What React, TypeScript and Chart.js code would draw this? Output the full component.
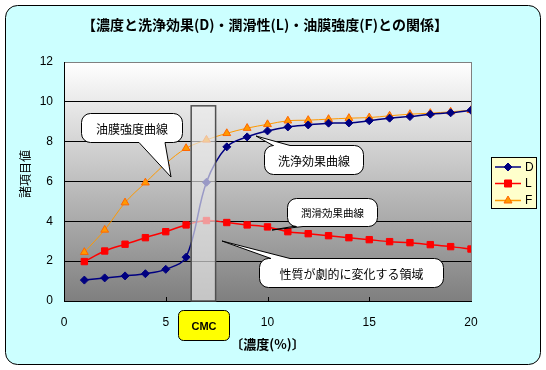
import { useEffect, useRef } from 'react';
import { Chart, registerables } from 'chart.js';

Chart.register(...registerables);

// ---- data ----
const concentrations = [1, 2, 3, 4, 5, 6, 7, 8, 9, 10, 11, 12, 13, 14, 15, 16, 17, 18, 19, 20];
const dValues = [1.05, 1.16, 1.26, 1.37, 1.59, 2.2, 5.96, 7.74, 8.24, 8.54, 8.74, 8.84, 8.93, 8.94, 9.05, 9.18, 9.26, 9.38, 9.45, 9.58];
const lValues = [1.98, 2.51, 2.85, 3.18, 3.48, 3.82, 4.04, 3.94, 3.82, 3.72, 3.48, 3.38, 3.28, 3.18, 3.08, 2.98, 2.93, 2.83, 2.73, 2.61];
const fValues = [2.45, 3.57, 4.94, 5.94, 6.9, 7.67, 8.09, 8.42, 8.68, 8.87, 9.05, 9.08, 9.13, 9.18, 9.21, 9.3, 9.38, 9.43, 9.5, 9.58];
const seriesNames = ['D', 'L', 'F'];
const xTicks = [0, 5, 10, 15, 20];
const yTicks = [0, 2, 4, 6, 8, 10, 12];
const cmcRange = [6.25, 7.45];
const cmcTop = 9.8;

const titleText = '【濃度と洗浄効果(D)・潤滑性(L)・油膜強度(F)との関係】';
const xTitle = '〔濃度(%)〕';
const yTitle = '諸項目値';
const cmcLabel = 'CMC';

const JP = "'Noto Sans CJK JP', 'Noto Sans', sans-serif";
const NUM = "'Liberation Sans', Arial, sans-serif";

type Tail = { edge: 'top' | 'bottom'; a: number; b: number; tx: number; ty: number };

function calloutPath(ctx: CanvasRenderingContext2D, x: number, y: number, w: number, h: number, r: number, t: Tail) {
  ctx.beginPath();
  ctx.moveTo(x + r, y);
  if (t.edge === 'top') {
    ctx.lineTo(t.a, y);
    ctx.lineTo(t.tx, t.ty);
    ctx.lineTo(t.b, y);
  }
  ctx.lineTo(x + w - r, y);
  ctx.arcTo(x + w, y, x + w, y + r, r);
  ctx.lineTo(x + w, y + h - r);
  ctx.arcTo(x + w, y + h, x + w - r, y + h, r);
  if (t.edge === 'bottom') {
    ctx.lineTo(t.b, y + h);
    ctx.lineTo(t.tx, t.ty);
    ctx.lineTo(t.a, y + h);
  }
  ctx.lineTo(x + r, y + h);
  ctx.arcTo(x, y + h, x, y + h - r, r);
  ctx.lineTo(x, y + r);
  ctx.arcTo(x, y, x + r, y, r);
  ctx.closePath();
}

function roundRect(ctx: CanvasRenderingContext2D, x: number, y: number, w: number, h: number, r: number) {
  ctx.beginPath();
  ctx.moveTo(x + r, y);
  ctx.lineTo(x + w - r, y);
  ctx.arcTo(x + w, y, x + w, y + r, r);
  ctx.lineTo(x + w, y + h - r);
  ctx.arcTo(x + w, y + h, x + w - r, y + h, r);
  ctx.lineTo(x + r, y + h);
  ctx.arcTo(x, y + h, x, y + h - r, r);
  ctx.lineTo(x, y + r);
  ctx.arcTo(x, y, x + r, y, r);
  ctx.closePath();
}

function drawMarker(ctx: CanvasRenderingContext2D, kind: string, x: number, y: number, fill: string, stroke: string) {
  ctx.beginPath();
  if (kind === 'diamond') {
    ctx.moveTo(x, y - 4); ctx.lineTo(x + 4, y); ctx.lineTo(x, y + 4); ctx.lineTo(x - 4, y);
  } else if (kind === 'square') {
    ctx.rect(x - 3.5, y - 3.5, 7, 7);
  } else {
    ctx.moveTo(x, y - 4.5); ctx.lineTo(x + 4, y + 2.5); ctx.lineTo(x - 4, y + 2.5);
  }
  ctx.closePath();
  ctx.fillStyle = fill;
  ctx.fill();
  ctx.strokeStyle = stroke;
  ctx.lineWidth = 1;
  ctx.stroke();
}

export default function App() {
  const ref = useRef<HTMLCanvasElement>(null);

  useEffect(() => {
    document.body.style.margin = '0';
    const canvas = ref.current!;

    const overlay = {
      id: 'overlay',
      beforeDraw(chart: any) {
        const ctx: CanvasRenderingContext2D = chart.ctx;
        const { left, top, right, bottom } = chart.chartArea;
        ctx.save();
        ctx.fillStyle = '#FFFFFF';
        ctx.fillRect(0, 0, chart.width, chart.height);
        roundRect(ctx, 5.5, 5.5, 535, 359, 12);
        ctx.fillStyle = '#CCFFFF';
        ctx.fill();
        ctx.strokeStyle = '#000000';
        ctx.lineWidth = 1;
        ctx.stroke();
        const g = ctx.createLinearGradient(0, top, 0, bottom);
        g.addColorStop(0, '#FFFFFF');
        g.addColorStop(1, '#7F7F7F');
        ctx.fillStyle = g;
        ctx.fillRect(left, top, right - left, bottom - top);
        ctx.restore();
      },
      afterDatasetsDraw(chart: any) {
        const ctx: CanvasRenderingContext2D = chart.ctx;
        const xs = chart.scales.x;
        const ys = chart.scales.y;
        const { left, top, right, bottom } = chart.chartArea;
        ctx.save();

        // inner x tick marks
        ctx.strokeStyle = '#000000';
        ctx.lineWidth = 1;
        for (const v of xTicks.slice(1, -1)) {
          const px = Math.round(xs.getPixelForValue(v)) + 0.5;
          ctx.beginPath();
          ctx.moveTo(px, bottom);
          ctx.lineTo(px, bottom - 4);
          ctx.stroke();
        }
        // right border gray
        ctx.strokeStyle = '#808080';
        ctx.beginPath();
        ctx.moveTo(Math.round(right) + 0.5, top);
        ctx.lineTo(Math.round(right) + 0.5, bottom);
        ctx.stroke();

        // CMC band
        const bx1 = xs.getPixelForValue(cmcRange[0]);
        const bx2 = xs.getPixelForValue(cmcRange[1]);
        const by = ys.getPixelForValue(cmcTop);
        ctx.fillStyle = 'rgba(235,235,235,0.65)';
        ctx.fillRect(bx1, by, bx2 - bx1, bottom - by);
        ctx.strokeStyle = '#505050';
        ctx.lineWidth = 1.5;
        ctx.strokeRect(bx1, by, bx2 - bx1, bottom - by);

        // callouts
        const callouts: { text: string; x: number; y: number; w: number; h: number; size: number; tail: Tail }[] = [
          { text: '油膜強度曲線', x: 81.5, y: 113.5, w: 101, h: 29, size: 12, tail: { edge: 'bottom', a: 139, b: 165, tx: 171, ty: 177 } },
          { text: '洗浄効果曲線', x: 264.5, y: 145.5, w: 99, h: 29, size: 12, tail: { edge: 'top', a: 273, b: 290, tx: 256, ty: 136 } },
          { text: '潤滑効果曲線', x: 287.5, y: 198.5, w: 90, h: 28, size: 10.5, tail: { edge: 'bottom', a: 293, b: 303, tx: 272, ty: 230 } },
          { text: '性質が劇的に変化する領域', x: 259.5, y: 258.5, w: 184, h: 29, size: 12, tail: { edge: 'top', a: 271, b: 290, tx: 222, ty: 241 } },
        ];
        for (const c of callouts) {
          calloutPath(ctx, c.x, c.y, c.w, c.h, 9, c.tail);
          ctx.fillStyle = '#FFFFFF';
          ctx.fill();
          ctx.strokeStyle = '#000000';
          ctx.lineWidth = 1;
          ctx.stroke();
          ctx.fillStyle = '#000000';
          ctx.font = `${c.size}px ${JP}`;
          ctx.textAlign = 'center';
          ctx.textBaseline = 'middle';
          ctx.fillText(c.text, c.x + c.w / 2, c.y + c.h / 2 + 1);
        }

        // legend
        ctx.fillStyle = '#FFFFCC';
        ctx.fillRect(491.5, 157.5, 45, 51);
        ctx.strokeStyle = '#000000';
        ctx.lineWidth = 1;
        ctx.strokeRect(491.5, 157.5, 45, 51);
        const leg = [
          { name: seriesNames[0], color: '#000080', fill: '#000080', kind: 'diamond', y: 167 },
          { name: seriesNames[1], color: '#FF0000', fill: '#FF0000', kind: 'square', y: 183.5 },
          { name: seriesNames[2], color: '#FF9900', fill: '#FF9900', kind: 'triangle', y: 200.5 },
        ];
        for (const l of leg) {
          ctx.strokeStyle = l.color;
          ctx.lineWidth = 1.5;
          ctx.beginPath();
          ctx.moveTo(495, l.y);
          ctx.lineTo(521, l.y);
          ctx.stroke();
          drawMarker(ctx, l.kind, 508, l.y, l.fill, l.kind === 'triangle' ? '#FF6600' : l.color);
          ctx.fillStyle = '#000000';
          ctx.font = `12px ${NUM}`;
          ctx.textAlign = 'left';
          ctx.textBaseline = 'middle';
          ctx.fillText(l.name, 525, l.y + 0.5);
        }

        // CMC label
        roundRect(ctx, 178.5, 310.5, 51, 30, 5);
        ctx.fillStyle = '#FFFF00';
        ctx.fill();
        ctx.strokeStyle = '#000000';
        ctx.lineWidth = 1;
        ctx.stroke();
        ctx.fillStyle = '#000000';
        ctx.font = `bold 11px ${NUM}`;
        ctx.textAlign = 'center';
        ctx.textBaseline = 'middle';
        ctx.fillText(cmcLabel, 204, 326.5);

        // main title
        ctx.font = `bold 14px ${JP}`;
        ctx.fillText(titleText, 265, 25);

        // y title rotated
        ctx.save();
        ctx.translate(25.5, 174);
        ctx.rotate(-Math.PI / 2);
        ctx.font = `12px ${JP}`;
        ctx.fillText(yTitle, 0, 0);
        ctx.restore();

        ctx.restore();
      },
    };

    const mk = (vals: number[]) => concentrations.map((x, i) => ({ x, y: vals[i] }));

    const chart = new Chart(canvas, {
      type: 'line',
      data: {
        datasets: [
          {
            label: seriesNames[0],
            data: mk(dValues),
            borderColor: '#000080',
            backgroundColor: '#000080',
            borderWidth: 1.5,
            pointStyle: 'rectRot',
            pointRadius: 4,
            pointBorderWidth: 1,
            tension: 0.35,
          },
          {
            label: seriesNames[1],
            data: mk(lValues),
            borderColor: '#FF0000',
            backgroundColor: '#FF0000',
            borderWidth: 1.5,
            pointStyle: 'rect',
            pointRadius: 4.5,
            pointBorderWidth: 1,
            tension: 0.35,
          },
          {
            label: seriesNames[2],
            data: mk(fValues),
            borderColor: '#FF9900',
            backgroundColor: '#FF9900',
            pointBorderColor: '#FF6600',
            borderWidth: 1,
            pointStyle: 'triangle',
            pointRadius: 4.5,
            pointBorderWidth: 1,
            tension: 0.35,
          },
        ],
      },
      options: {
        animation: false,
        responsive: false,
        devicePixelRatio: 1,
        layout: { padding: { left: 14, top: 62, right: 75, bottom: 10 } },
        plugins: {
          legend: { display: false },
          title: { display: false },
          tooltip: { enabled: false },
        },
        scales: {
          x: {
            type: 'linear',
            min: 0,
            max: 20,
            afterFit: (s: any) => { s.height = 59; },
            afterBuildTicks: (s: any) => { s.ticks = xTicks.map((v) => ({ value: v })); },
            ticks: { color: '#000000', font: { family: NUM, size: 12 }, padding: 14, maxRotation: 0 },
            grid: { display: false, drawTicks: false },
            border: { display: true, color: '#000000', width: 1 },
            title: { display: true, text: xTitle, color: '#000000', font: { family: JP, size: 13, weight: 'bold' }, padding: { top: 0, bottom: 8 } },
          },
          y: {
            type: 'linear',
            min: 0,
            max: 12,
            afterFit: (s: any) => { s.width = 50; },
            afterBuildTicks: (s: any) => { s.ticks = yTicks.map((v) => ({ value: v })); },
            ticks: { color: '#000000', font: { family: NUM, size: 12 }, padding: 11 },
            grid: {
              drawTicks: false,
              color: (c: any) => (c.tick && c.tick.value === 12 ? '#808080' : '#000000'),
              lineWidth: 1,
            },
            border: { display: true, color: '#000000', width: 1 },
          },
        },
      },
      plugins: [overlay],
    } as any);

    return () => chart.destroy();
  }, []);

  return (
    <div style={{ position: 'absolute', left: 0, top: 0, width: 546, height: 370 }}>
      <canvas ref={ref} width={546} height={370} style={{ width: 546, height: 370, display: 'block' }} />
    </div>
  );
}
